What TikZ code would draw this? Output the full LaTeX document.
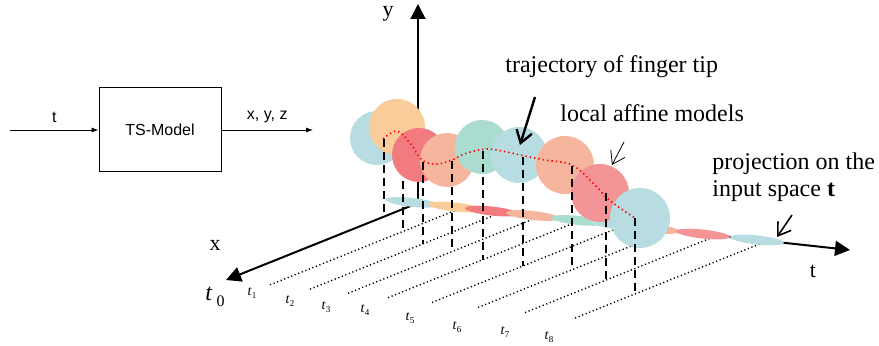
\documentclass[tikz,border=0pt]{standalone}
\usepackage{fontspec}
\setmainfont{Liberation Serif}
\setsansfont{Liberation Sans}
\usetikzlibrary{arrows.meta,calc,shapes.geometric}
\definecolor{fingerBlue}{RGB}{183,220,225}
\definecolor{fingerOrange}{RGB}{249,204,153}
\definecolor{fingerRed}{RGB}{241,123,127}
\definecolor{fingerSalmon}{RGB}{246,182,158}
\definecolor{fingerTeal}{RGB}{170,220,208}
\definecolor{fingerPink}{RGB}{243,149,151}
\newcommand{\tlab}[1]{\textit{t}\raisebox{-0.45ex}{\fontsize{4.5}{5}\selectfont #1}}

\begin{document}
\begin{tikzpicture}[x=0.5pt,y=-0.5pt,
  box/.style={
    draw,
    line width=0.5pt,
    minimum width=61pt,
    minimum height=42pt,
    font=\sffamily\fontsize{8}{10}\selectfont
  },
  sig/.style={-{Latex[length=3.5pt,width=2.5pt]},line width=0.4pt},
  axis/.style={-{Triangle[length=7.5pt,width=7.5pt]},line width=1pt},
  gridline/.style={line width=0.7pt,dash pattern=on 0.6pt off 1.3pt},
  drop/.style={line width=0.9pt,dash pattern=on 4pt off 2.5pt},
  traj/.style={red,line width=0.8pt,dash pattern=on 0.7pt off 1.5pt},
  ball/.style={circle,inner sep=0pt,minimum size=#1},
  proj/.style={ellipse,inner sep=0pt,minimum width=27pt,minimum height=4.5pt,rotate=-6.2},
  note/.style={font=\fontsize{12}{13}\selectfont,align=left,inner sep=0pt},
  axislabel/.style={font=\fontsize{11}{12}\selectfont,inner sep=0pt},
  pointer/.style={-{Straight Barb[length=6pt,width=8pt]},line width=1.2pt},
  tick/.style={font=\fontsize{7}{8}\selectfont,inner sep=0pt}
]
  \useasboundingbox (0,0) rectangle (879,346);

  % block diagram
  \node[box] (model) at (160,130) {TS-Model};
  \coordinate (in) at (10,130);
  \coordinate (out) at (313,130);
  \draw[sig] (in) -- node[above,font=\sffamily\fontsize{8}{10}\selectfont]{t} (model);
  \draw[sig] (model) -- node[above,font=\sffamily\fontsize{8}{10}\selectfont]{x, y, z} (out);

  % axes
  \coordinate (O) at (418,203);
  \coordinate (Y) at (418,4);
  \coordinate (X) at (226,280);
  \coordinate (T) at (850,250);
  \draw[axis] (O) -- (Y);
  \draw[axis] (O) -- (X);
  \draw[axis] (O) -- (T);
  \node[axislabel] (ylab) at (388,14) {y};
  \node[axislabel] (xlab) at (215,245) {x};
  \node[axislabel] (tlab) at (813,271) {t};

  % time lines
  \foreach \a in {44,84,122,162,206,252,299,349}
    \draw[gridline] ($(X)+(\a,0.109*\a)$) -- ($(O)+(\a,0.109*\a)$);
  \node[tick,font=\fontsize{12}{13}\selectfont] (t0) at (215,297) {\textit{t}\,\raisebox{-0.6ex}{\fontsize{8}{9}\selectfont 0}};
  \foreach \i/\x/\y in {1/252/293,2/290/301,3/326/307,4/365/310,5/410/318,6/457/327,7/505/332,8/549/337}
    \node[tick] (t\i) at (\x,\y) {\tlab{\i}};

  % projections on t
  \foreach \a/\c [count=\i from 0] in {-6/fingerBlue,37/fingerOrange,74/fingerRed,115/fingerSalmon,
      160/fingerTeal,200/fingerBlue,235/fingerSalmon,285/fingerPink,339/fingerBlue}
    \node[proj,fill=\c] (p\i) at ($(O)+(\a,0.109*\a)$) {};

  % local models
  \foreach \x/\y/\r/\c [count=\i from 0] in {377/138/27/fingerBlue,397/127/28/fingerOrange,
      419/155/27/fingerRed,447/160/27/fingerSalmon,482/147/27/fingerTeal,519/155/28/fingerBlue,
      565/165/29/fingerSalmon,600/193/29/fingerPink,640/218/30/fingerBlue}
    \node[ball=\r pt,fill=\c] (c\i) at (\x,\y) {};

  % trajectory
  \draw[traj] plot[smooth,tension=0.6] coordinates {(383,139) (397,131) (410,143) (422,160)
    (437,164) (452,160) (467,153) (487,149) (507,152) (520,155) (545,160) (572,165)
    (593,183) (607,198) (620,208) (635,218)};

  % drops to the time lines
  \foreach \x/\t/\a [count=\i from 0] in {384/139/0,403/181/44,423/162/84,452/161/122,
      483/151/162,523/157/206,572/166/252,606/193/299,635/218/349}{
    \pgfmathsetmacro\gy{203+0.109*\a+77*(418+\a-\x)/192}
    \coordinate (k\i) at (\x,\t);
    \coordinate (g\i) at (\x,\gy);
    \draw[drop] (k\i) -- (g\i);
  }

  % annotations
  \node[note,anchor=base west] (trajtext) at (505,73) {trajectory of finger tip};
  \coordinate (trajtail) at (535,97);
  \coordinate (trajtip) at (520,145);
  \draw[pointer] (trajtail) -- (trajtip);

  \node[note,anchor=base west] (localtext) at (560,122) {local affine models};
  \coordinate (localtail) at (624,142);
  \coordinate (localtip) at (612,165);
  \draw[pointer,line width=0.4pt] (localtail) -- (localtip);

  \node[note,anchor=base west] (projtext) at (712,170) {projection on the};
  \node[note,anchor=base west] (projtext2) at (712,197) {input space \textbf{t}};
  \coordinate (projtail) at (792,215);
  \coordinate (projtip) at (777,237);
  \draw[pointer,line width=0.8pt] (projtail) -- (projtip);
\end{tikzpicture}
\end{document}
